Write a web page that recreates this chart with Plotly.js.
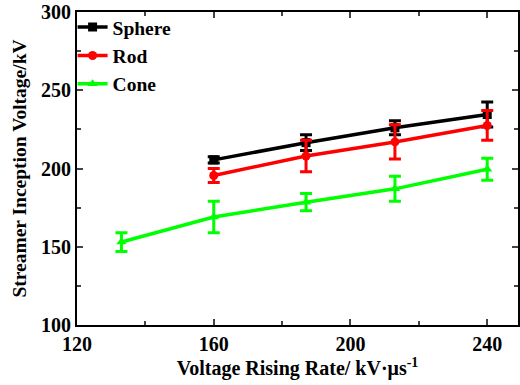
<!DOCTYPE html>
<html><head><meta charset="utf-8">
<script src="https://cdn.plot.ly/plotly-3.0.1.min.js"></script>
<style>html,body{margin:0;padding:0;background:#fff}</style>
</head><body>
<div id="chart" style="width:520px;height:385px"></div>
<script>
const rateSphere = [160, 187, 213, 240];
const sphere = [205.5, 216.5, 226, 234.5];
const sphereErr = [2, 5, 4.5, 8];
const rateRod = [160, 187, 213, 240];
const rod = [195.5, 208, 217, 227.5];
const rodErr = [4.5, 10, 11, 9.5];
const rateCone = [133, 160, 187, 213, 240];
const cone = [153, 169, 178.5, 187, 199.5];
const coneErr = [6, 10, 5.5, 8, 7];
const xTicks = [120, 160, 200, 240];
const yTicks = [100, 150, 200, 250, 300];

function tr(name, x, y, e, color, symbol) {
  return {
    type: 'scatter', mode: 'lines+markers', name: name, x: x, y: y,
    line: {color: color, width: 3.5},
    marker: {color: color, symbol: symbol, size: 9},
    error_y: {type: 'data', array: e, visible: true, color: color, thickness: 3, width: 6}
  };
}
const data = [
  tr('Sphere', rateSphere, sphere, sphereErr, '#000000', 'square'),
  tr('Rod', rateRod, rod, rodErr, '#ff0000', 'circle'),
  tr('Cone', rateCone, cone, coneErr, '#00ff00', 'triangle-up')
];
const fam = 'Times New Roman, Liberation Serif, serif';
const F = (s) => ({family: fam, size: s, color: '#000', weight: 700});
const layout = {
  width: 520, height: 385,
  margin: {l: 77, r: 2, t: 12, b: 60},
  paper_bgcolor: '#fff', plot_bgcolor: '#fff',
  font: F(19),
  showlegend: true,
  legend: {x: -0.01, y: 1.013, xanchor: 'left', yanchor: 'top', bgcolor: 'rgba(0,0,0,0)',
    font: F(19.5), itemwidth: 30, tracegroupgap: 0},
  xaxis: {
    range: [120, 249], tickvals: xTicks, ticktext: xTicks.map(String),
    ticks: 'inside', ticklen: 6, tickwidth: 2,
    minor: {tickvals: [140, 180, 220], ticks: 'inside', ticklen: 4, tickwidth: 2},
    showline: true, linewidth: 2, linecolor: '#000', mirror: 'ticks', showgrid: false, zeroline: false,
    tickfont: F(20),
    title: {text: 'Voltage Rising Rate/ kV·μs<sup>-1</sup>', standoff: 1, font: F(20)}
  },
  yaxis: {
    range: [100, 300], tickvals: yTicks, ticktext: yTicks.map(String),
    ticks: 'inside', ticklen: 6, tickwidth: 2,
    minor: {tickvals: [125, 175, 225, 275], ticks: 'inside', ticklen: 4, tickwidth: 2},
    showline: true, linewidth: 2, linecolor: '#000', mirror: 'ticks', showgrid: false, zeroline: false,
    tickfont: F(20),
    title: {text: 'Streamer Inception Voltage/kV', standoff: 9, font: F(19.5)}
  }
};
Plotly.newPlot('chart', data, layout, {displayModeBar: false, staticPlot: true});
</script>
</body></html>
